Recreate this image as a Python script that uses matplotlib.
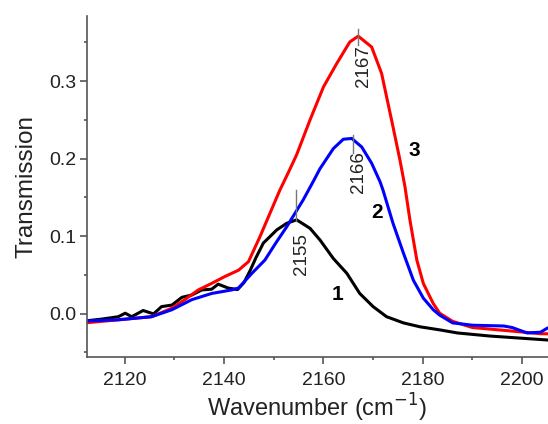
import matplotlib
matplotlib.use("Agg")
import matplotlib.pyplot as plt
import numpy as np

plt.rcParams['font.family'] = ['Liberation Sans', 'DejaVu Sans']

# Curve 1 (black)
x1 = [2112.0, 2115.5, 2118.7, 2120.1, 2121.4, 2123.7, 2125.8, 2127.4, 2129.5, 2131.5, 2133.5,
      2135.5, 2137.5, 2138.8, 2140.8, 2142.7, 2144.0, 2145.2, 2146.4, 2147.9, 2150.6, 2152.6,
      2154.6, 2157.3, 2159.3, 2162.0, 2164.7, 2167.3, 2170.0, 2172.7, 2176.1, 2179.4, 2183.4,
      2187.0, 2193.6, 2205.0]
y1 = [-0.0095, -0.007, -0.004, 0.0005, -0.004, 0.004, -0.0004, 0.009, 0.011, 0.021, 0.024,
      0.0305, 0.0315, 0.038, 0.033, 0.031, 0.040, 0.055, 0.072, 0.091, 0.108, 0.1165,
      0.121, 0.110, 0.095, 0.071, 0.052, 0.026, 0.009, -0.004, -0.012, -0.017, -0.021,
      -0.025, -0.029, -0.034]

# Curve 2 (blue)
x2 = [2112.0, 2118.7, 2125.4, 2129.5, 2133.5, 2137.5, 2141.5, 2142.9, 2145.6, 2148.2, 2150.5,
      2152.6, 2155.9, 2157.9, 2159.3, 2162.0, 2164.0, 2165.7, 2167.7, 2169.7, 2171.4, 2172.0,
      2174.0, 2176.1, 2178.1, 2180.1, 2182.1, 2183.4, 2186.0, 2190.0, 2196.3, 2198.0, 2201.0,
      2203.7, 2205.0]
y2 = [-0.0095, -0.008, -0.004, 0.005, 0.018, 0.026, 0.0305, 0.033, 0.052, 0.069, 0.092,
      0.112, 0.1465, 0.170, 0.187, 0.213, 0.225, 0.226, 0.215, 0.194, 0.170, 0.159,
      0.1165, 0.078, 0.043, 0.020, 0.005, -0.002, -0.012, -0.015, -0.016, -0.018, -0.025,
      -0.024, -0.019]

# Curve 3 (red)
x3 = [2112.0, 2118.7, 2125.4, 2129.5, 2132.1, 2134.8, 2137.5, 2140.2, 2142.9, 2144.9, 2147.2,
      2149.2, 2151.2, 2153.0, 2154.6, 2157.3, 2160.0, 2162.7, 2165.3, 2167.0, 2169.7, 2171.7,
      2172.7, 2174.0, 2175.4, 2176.4, 2177.4, 2178.8, 2180.1, 2182.1, 2183.4, 2186.0, 2190.0,
      2197.0, 2203.7, 2205.0]
y3 = [-0.012, -0.008, -0.004, 0.007, 0.018, 0.0305, 0.039, 0.048, 0.056, 0.067, 0.099,
      0.129, 0.159, 0.183, 0.205, 0.250, 0.2925, 0.323, 0.3505, 0.358, 0.344, 0.310,
      0.280, 0.241, 0.198, 0.164, 0.121, 0.069, 0.039, 0.013, 0.0005, -0.010, -0.018,
      -0.022, -0.026, -0.026]

peak_pos = [2154.5, 2166.0, 2167.0]
peak_val = [0.120, 0.226, 0.358]
peak_labels = ["2155", "2166", "2167"]
curve_labels = ["1", "2", "3"]

fig = plt.figure(figsize=(5.48, 4.24), dpi=100)
ax = fig.add_axes([87/548, 1 - 357/424, 1 - 87/548, (357 - 16)/424])

ax.plot(x1, y1, color='black', lw=2.2, solid_joinstyle='round')
ax.plot(x3, y3, color='#ff0000', lw=2.2, solid_joinstyle='round')
ax.plot(x2, y2, color='#0000ff', lw=2.2, solid_joinstyle='round')

ax.set_xlim(2112.4, 2205.2)
ax.set_ylim(-0.056, 0.384)

for s in ['top', 'right']:
    ax.spines[s].set_visible(False)
for s in ['left', 'bottom']:
    ax.spines[s].set_color('#555555')
    ax.spines[s].set_linewidth(1.2)

ax.set_xticks([2120, 2140, 2160, 2180, 2200])
ax.set_xticks(np.arange(2130, 2200, 20), minor=True)
ax.set_yticks([0.0, 0.1, 0.2, 0.3])
ax.set_yticklabels(['0.0', '0.1', '0.2', '0.3'])
ax.set_yticks([-0.05, 0.05, 0.15, 0.25, 0.35], minor=True)
ax.tick_params(which='major', direction='out', length=5, width=1.2, color='#555555',
               labelsize=14, labelcolor='#222222', pad=3)
ax.tick_params(axis='x', which='major', pad=6)
ax.tick_params(which='minor', direction='out', length=2.5, width=1.2, color='#555555')

ax.set_xlabel('Wavenumber (cm$^{-1}$)', fontsize=17, color='#222222', labelpad=2)
ax.set_ylabel('Transmission', fontsize=17.5, color='#222222', labelpad=8)

# Peak markers
line_ext = [(0.0, 0.039), (-0.019, 0.005), (-0.012, 0.009)]
label_drop = [0.016, 0.017, 0.012]
for xp, yp, lab, (lo, hi), dr in zip(peak_pos, peak_val, peak_labels, line_ext, label_drop):
    ax.plot([xp, xp], [yp + lo, yp + hi], color='#777777', lw=1.0)
    ax.text(xp + 1.0, yp - dr, lab, rotation=90, ha='center', va='top',
            fontsize=13.5, color='#222222')

ax.text(2162.8, 0.024, curve_labels[0], fontsize=15, fontweight='bold', ha='center', va='center')
ax.text(2170.8, 0.130, curve_labels[1], fontsize=15, fontweight='bold', ha='center', va='center')
ax.text(2178.2, 0.211, curve_labels[2], fontsize=15, fontweight='bold', ha='center', va='center')

fig.savefig('out.png', dpi=100)
